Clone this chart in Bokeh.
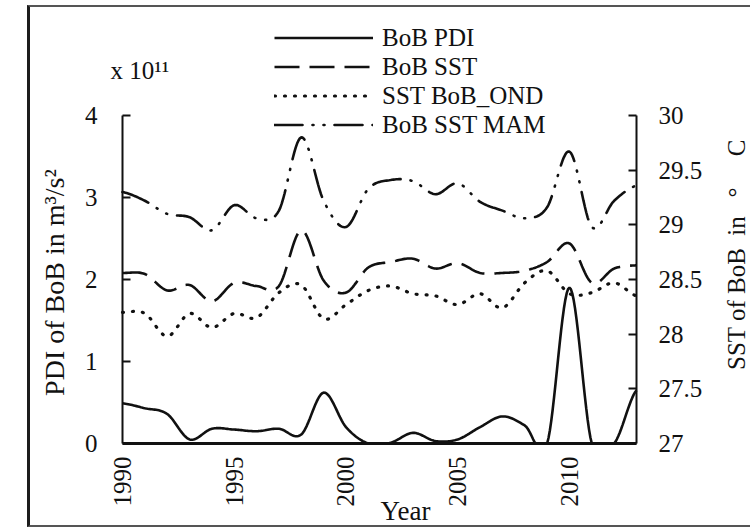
import numpy as np
from math import pi
from bokeh.plotting import figure
from bokeh.models import (Range1d, LinearAxis, FixedTicker, Label, Legend,
                          LegendItem, NumeralTickFormatter)
from bokeh.embed import file_html
from bokeh.resources import INLINE

# ---------------- data ----------------
years = list(range(1990, 2014))
bob_pdi = [0.49, 0.43, 0.36, 0.05, 0.18, 0.17, 0.15, 0.18, 0.11, 0.62, 0.20, 0.00,
           0.01, 0.13, 0.03, 0.05, 0.20, 0.33, 0.22, 0.00, 1.90, 0.00, 0.00, 0.65]
bob_sst = [28.56, 28.55, 28.40, 28.45, 28.30, 28.47, 28.44, 28.44, 28.95, 28.49, 28.38, 28.61,
           28.66, 28.69, 28.60, 28.65, 28.56, 28.56, 28.58, 28.66, 28.83, 28.47, 28.60, 28.63]
sst_bob_ond = [28.20, 28.19, 27.98, 28.19, 28.06, 28.19, 28.15, 28.38, 28.45, 28.14, 28.27, 28.40,
               28.44, 28.37, 28.35, 28.27, 28.37, 28.24, 28.47, 28.58, 28.37, 28.38, 28.47, 28.35]
bob_sst_mam = [29.30, 29.22, 29.10, 29.07, 28.95, 29.18, 29.06, 29.13, 29.80, 29.22, 28.98, 29.33,
               29.41, 29.40, 29.28, 29.38, 29.21, 29.13, 29.06, 29.16, 29.67, 28.98, 29.22, 29.36]

x_ticks = [1990, 1995, 2000, 2005, 2010]
pdi_ticks = [0, 1, 2, 3, 4]
sst_ticks = [27, 27.5, 28, 28.5, 29, 29.5, 30]
sst_tick_labels = ["27", "27.5", "28", "28.5", "29", "29.5", "30"]

FONT = "Liberation Serif, Times New Roman, serif"
INK = "#111111"

# ---------------- geometry (page pixels) ----------------
CANVAS_L, CANVAS_T, W, H = 30, 7, 723, 522          # canvas inside the CSS frame
AX_L, AX_R, AX_T, AX_B = 122, 636, 115, 443         # where the axes sit
X0, X1, P0, P1, S0, S1 = 1990, 2013, 0, 4, 27, 30   # axis extents

xs_per_px = (X1 - X0) / (AX_R - AX_L)
ps_per_px = (P1 - P0) / (AX_B - AX_T)
ss_per_px = (S1 - S0) / (AX_B - AX_T)
x_range = Range1d(X0 - (AX_L - CANVAS_L) * xs_per_px, X1 + (CANVAS_L + W - AX_R) * xs_per_px)
y_range = Range1d(P0 - (CANVAS_T + H - AX_B) * ps_per_px, P1 + (AX_T - CANVAS_T) * ps_per_px)
sst_range = Range1d(S0 - (CANVAS_T + H - AX_B) * ss_per_px, S1 + (AX_T - CANVAS_T) * ss_per_px)


def sx(px):  # page x -> frame screen x
    return px - CANVAS_L


def sy(py):  # page y -> frame screen y (up from bottom)
    return CANVAS_T + H - py


def smooth(xs, ys, steps=16):
    """Excel-like smoothed line (Catmull-Rom / cubic Hermite through the points)."""
    xs = np.asarray(xs, float)
    ys = np.asarray(ys, float)
    ye = np.concatenate([[ys[0]], ys, [ys[-1]]])
    t = np.linspace(0.0, 1.0, steps, endpoint=False)
    h00 = 2 * t**3 - 3 * t**2 + 1
    h10 = t**3 - 2 * t**2 + t
    h01 = -2 * t**3 + 3 * t**2
    h11 = t**3 - t**2
    ox, oy = [], []
    for i in range(len(xs) - 1):
        m0 = (ye[i + 2] - ye[i]) / 2
        m1 = (ye[i + 3] - ye[i + 1]) / 2
        ox.append(xs[i] + t * (xs[i + 1] - xs[i]))
        oy.append(h00 * ys[i] + h10 * m0 + h01 * ys[i + 1] + h11 * m1)
    ox.append([xs[-1]])
    oy.append([ys[-1]])
    return np.concatenate(ox), np.concatenate(oy)


p = figure(width=W, height=H, x_range=x_range, y_range=y_range,
           output_backend="svg", toolbar_location=None,
           min_border_left=0, min_border_right=0, min_border_top=0, min_border_bottom=0)
p.margin = (5, 0, 0, 27)
p.styles = {"border-left": "3px solid #1c1c1c",
            "border-top": "2px solid #555555",
            "border-bottom": "2px solid #555555"}
p.extra_y_ranges = {"sst": sst_range}
p.outline_line_color = None
p.xgrid.visible = False
p.ygrid.visible = False
p.background_fill_color = "white"
p.border_fill_color = "white"

# left axis (PDI)
ya = p.yaxis[0]
ya.fixed_location = X0
ya.bounds = (P0, P1)
ya.ticker = FixedTicker(ticks=pdi_ticks)
ya.major_tick_in = 8
ya.major_tick_out = 0
ya.minor_tick_line_color = None
ya.axis_line_width = 2
ya.axis_line_color = INK
ya.major_tick_line_width = 2
ya.major_tick_line_color = INK
ya.major_label_standoff = 25
ya.major_label_text_font = FONT
ya.major_label_text_font_size = "25px"
ya.major_label_text_color = INK

# bottom axis (years)
xa = p.xaxis[0]
xa.fixed_location = P0
xa.bounds = (X0, X1)
xa.ticker = FixedTicker(ticks=x_ticks)
xa.major_tick_in = 0
xa.major_tick_out = 0
xa.minor_tick_line_color = None
xa.axis_line_width = 3
xa.axis_line_color = INK
xa.major_label_orientation = pi / 2
xa.major_label_standoff = 13
xa.major_label_text_font = FONT
xa.major_label_text_font_size = "25px"
xa.major_label_text_color = INK

# right axis (SST)
ra = LinearAxis(y_range_name="sst", ticker=FixedTicker(ticks=sst_ticks),
                formatter=NumeralTickFormatter(format="0.[0]"))
ra.fixed_location = X1
ra.bounds = (S0, S1)
ra.major_label_overrides = dict(zip(sst_ticks, sst_tick_labels))
ra.major_tick_in = 8
ra.major_tick_out = 0
ra.minor_tick_line_color = None
ra.axis_line_width = 2
ra.axis_line_color = INK
ra.major_tick_line_width = 2
ra.major_tick_line_color = INK
ra.major_label_standoff = 22
ra.major_label_text_font = FONT
ra.major_label_text_font_size = "25px"
ra.major_label_text_color = INK
p.add_layout(ra, "right")

# series (smoothed like the original; PDI held at the axis floor like the clipped original)
x1, y1 = smooth(years, bob_pdi)
r_pdi = p.line(x1, np.clip(y1, P0, P1), line_color=INK, line_width=2.6)
x2, y2 = smooth(years, bob_sst)
r_sst = p.line(x2, y2, line_color=INK, line_width=2.6, line_dash="25 10",
               y_range_name="sst")
x3, y3 = smooth(years, sst_bob_ond)
r_ond = p.line(x3, y3, line_color=INK, line_width=3.2, line_dash="1 9",
               line_cap="round", y_range_name="sst")
x4, y4 = smooth(years, bob_sst_mam)
r_mam = p.line(x4, y4, line_color=INK, line_width=2.6,
               line_dash="28 10 1 10 1 10", line_cap="round", y_range_name="sst")

legend = Legend(items=[LegendItem(label="BoB PDI", renderers=[r_pdi]),
                       LegendItem(label="BoB SST", renderers=[r_sst]),
                       LegendItem(label="SST BoB_OND", renderers=[r_ond]),
                       LegendItem(label="BoB SST MAM", renderers=[r_mam])],
                location=(sx(274), sy(139)), orientation="vertical")
legend.glyph_width = 99
legend.glyph_height = 29
legend.label_height = 29
legend.spacing = 0
legend.padding = 0
legend.margin = 0
legend.label_standoff = 9
legend.border_line_color = None
legend.background_fill_alpha = 0
legend.label_text_font = FONT
legend.label_text_font_size = "25px"
legend.label_text_color = INK
p.add_layout(legend)

# texts
p.add_layout(Label(x=sx(110), y=sy(70), x_units="screen", y_units="screen",
                   text="x 10\u00b9\u00b9",
                   text_font=FONT, text_font_size="25px", text_color=INK,
                   text_align="left", text_baseline="middle"))
p.add_layout(Label(x=sx(405), y=sy(510), x_units="screen", y_units="screen", text="Year",
                   text_font=FONT, text_font_size="27px", text_color=INK,
                   text_align="center", text_baseline="middle"))
p.add_layout(Label(x=sx(54), y=sy(282), x_units="screen", y_units="screen",
                   text="PDI of BoB in m\u00b3/s\u00b2", angle=pi / 2,
                   text_font=FONT, text_font_size="28px", text_color=INK,
                   text_align="center", text_baseline="middle"))
p.add_layout(Label(x=sx(736), y=sy(254), x_units="screen", y_units="screen",
                   text="SST of BoB\u00a0 in\u00a0\u00a0\u00a0\u00b0\u00a0\u00a0\u00a0\u00a0 C",
                   angle=pi / 2,
                   text_font=FONT, text_font_size="25px", text_color=INK,
                   text_align="center", text_baseline="middle"))

open("out.html", "w").write(file_html(p, INLINE))
